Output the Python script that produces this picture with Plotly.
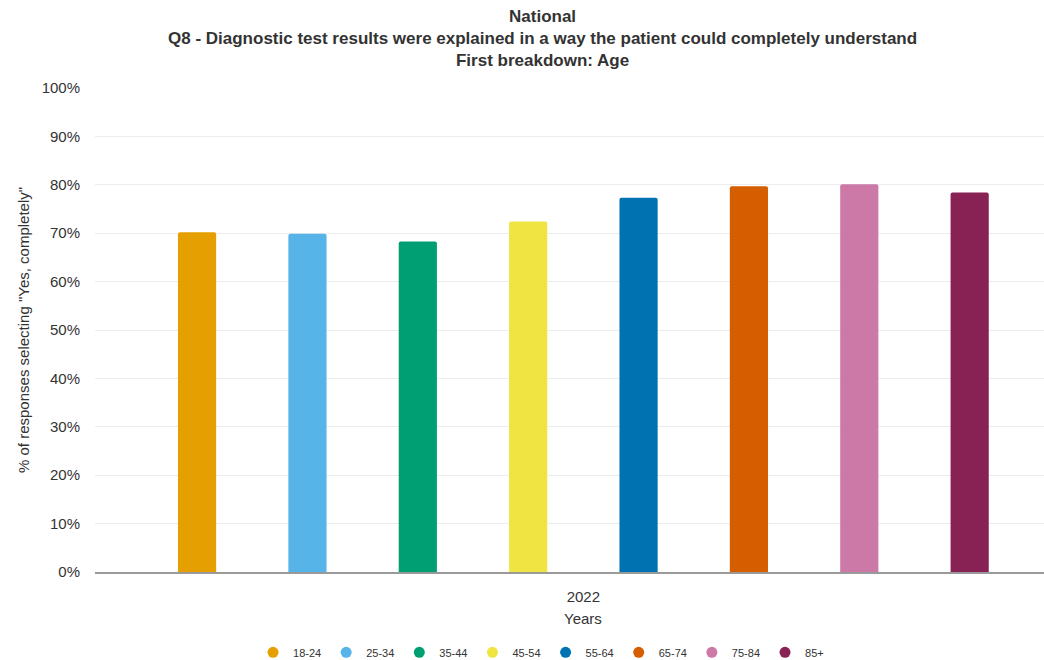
import plotly.graph_objects as go

# Survey results by age band, 2022
years = ["2022"]
age_groups = ["18-24", "25-34", "35-44", "45-54", "55-64", "65-74", "75-84", "85+"]
pct_yes_completely = [70.2, 69.9, 68.3, 72.4, 77.3, 79.7, 80.1, 78.4]
colors = ["#E69F00", "#56B4E9", "#009E73", "#F0E442",
          "#0072B2", "#D55E00", "#CC79A7", "#882255"]
y_ticks = list(range(0, 101, 10))
y_tick_labels = [f"{v}%" for v in y_ticks]

FONT = "Liberation Sans, Arial, sans-serif"

fig = go.Figure()

for name, val, col in zip(age_groups, pct_yes_completely, colors):
    fig.add_trace(go.Bar(
        x=years, y=[val], name=name, legendgroup=name, showlegend=False,
        marker=dict(color=col, cornerradius=2, line=dict(width=0)),
    ))
    # round legend swatches
    fig.add_trace(go.Scatter(
        x=[None], y=[None], mode="markers", name=name, legendgroup=name,
        marker=dict(symbol="circle", size=11, color=col),
        showlegend=True,
    ))

title_lines = [
    "National",
    "Q8 - Diagnostic test results were explained in a way the patient could completely understand",
    "First breakdown: Age",
]

fig.update_layout(
    width=1044, height=660,
    margin=dict(l=95, r=0, t=88, b=88, autoexpand=False),
    paper_bgcolor="white", plot_bgcolor="white",
    font=dict(family=FONT, color="#333333"),
    barmode="group", bargap=0.096, bargroupgap=0.654,
    xaxis=dict(
        type="category", range=[-0.5, 0.4716],
        showgrid=False, showline=True, linecolor="#9a9a9a", linewidth=2,
        ticks="", tickfont=dict(size=15, color="#333333"),
        ticklabelstandoff=10,
    ),
    yaxis=dict(
        range=[0, 100], tickmode="array", tickvals=y_ticks, ticktext=y_tick_labels,
        showgrid=True, gridcolor="#ececec", gridwidth=1,
        zeroline=False, showline=False, ticks="",
        tickfont=dict(size=15, color="#333333"),
        ticklabelstandoff=14,
    ),
    legend=dict(
        orientation="h", x=0.47, xanchor="center", y=-0.136, yanchor="top",
        font=dict(size=11, color="#333333"), itemwidth=30,
    ),
    showlegend=True,
    annotations=[
        dict(text="<b>" + "<br>".join(title_lines) + "</b>",
             xref="paper", x=(542 - 95) / 949, yref="paper",
             y=1 + (88 - 5) / 484, xanchor="center", yanchor="top",
             showarrow=False, align="center",
             font=dict(family=FONT, size=17, color="#333333")),
        dict(text="Years", xref="x", x=0, yref="paper", y=-(618 - 572) / 484,
             xanchor="center", yanchor="middle", showarrow=False,
             font=dict(size=15, color="#333333")),
        dict(text="% of responses selecting \"Yes, completely\"", xref="paper",
             x=(23 - 95) / 949, yref="paper", y=0.5, textangle=-90,
             xanchor="center", yanchor="middle", showarrow=False,
             font=dict(size=15, color="#333333")),
    ],
)

fig.write_html("out.html")
